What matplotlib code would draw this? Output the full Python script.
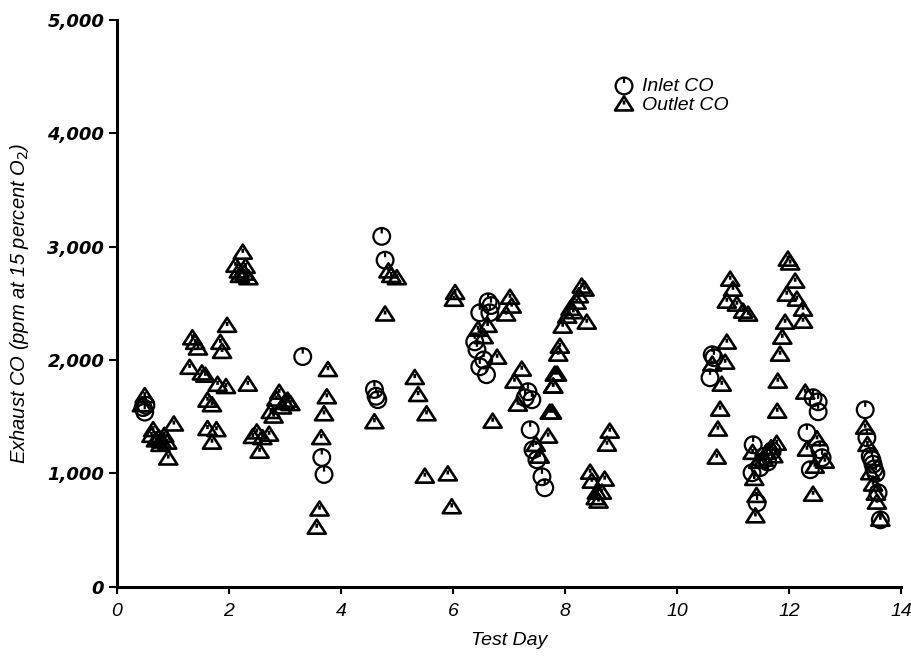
import matplotlib.pyplot as plt
import numpy as np
from matplotlib.path import Path

plt.rcParams['font.family'] = ['Liberation Sans', 'DejaVu Sans']

# Inlet CO readings (test day, ppm at 15 percent O2)
inlet_day = [0.47, 0.50, 0.52,
             3.32, 3.66, 3.70,
             4.60, 4.63, 4.66, 4.73, 4.79,
             6.48, 6.63, 6.66, 6.39, 6.43, 6.48, 6.60, 6.55, 6.68,
             7.34, 7.29, 7.41, 7.38, 7.43, 7.50, 7.59, 7.64,
             10.63, 10.59, 10.66,
             11.36, 11.34, 11.43, 11.55, 11.62, 11.70, 11.48,
             12.32, 12.38, 12.43, 12.52, 12.52, 12.55, 12.59,
             13.36, 13.39, 13.45, 13.48, 13.50, 13.52, 13.55, 13.59, 13.63]
inlet_co = [1580, 1540, 1600,
            2030, 1140, 990,
            1740, 1680, 1650, 3090, 2880,
            2416, 2513, 2416, 2160, 2090, 1940, 1870, 2000, 2480,
            1720, 1667, 1649, 1385, 1208, 1120, 970, 873,
            2046, 1843, 2020,
            1252, 1005, 740, 1150, 1100, 1200, 1050,
            1358, 1032, 1667, 1631, 1543, 1208, 1138,
            1561, 1314, 1150, 1120, 1080, 1040, 1000, 829, 590]

# Outlet CO readings
outlet_day = [0.50, 0.45, 0.62, 0.70, 0.75, 0.80, 0.85, 0.90, 1.02, 0.92, 0.65, 0.78,
              1.30, 1.35, 1.40, 1.45, 1.52, 1.58, 1.62, 1.70, 1.62, 1.70, 1.78,
              1.85, 1.88, 1.97, 1.80, 1.95,
              2.25, 2.12, 2.30, 2.20, 2.35, 2.28, 2.18,
              2.34, 2.50, 2.43, 2.72, 2.55, 2.60,
              2.90, 2.85, 3.00, 2.75, 2.80, 2.95, 3.05, 3.10,
              3.77, 3.75, 3.70, 3.65, 3.62, 3.57,
              4.90, 4.85, 4.79, 4.60, 5.00,
              5.32, 5.38, 5.53, 5.50, 5.91, 5.98, 6.04, 6.02,
              7.02, 7.05, 6.95, 6.45, 6.79, 6.71, 6.55, 6.62,
              7.23, 7.10, 7.16, 7.55, 7.48,
              7.86, 7.79, 7.77, 7.70, 7.91, 7.88, 7.82, 7.79, 7.73,
              8.30, 8.21, 8.04, 7.96, 8.39, 8.25, 8.35, 8.10, 8.15,
              8.80, 8.75, 8.45, 8.71, 8.48, 8.57, 8.66, 8.55, 8.60,
              10.95, 11.00, 10.89, 11.07, 11.18, 11.27, 10.89, 10.86, 10.80,
              10.77, 10.73, 10.71, 10.63,
              11.98, 12.11, 11.96, 12.14, 12.25, 12.25, 11.93, 11.88, 11.84,
              11.80, 11.79, 12.02,
              11.35, 11.45, 11.38, 11.42, 11.40, 11.60, 11.68, 11.72, 11.78, 11.55,
              12.29, 12.32, 12.46, 12.64, 12.43, 12.50,
              13.36, 13.40, 13.45, 13.50, 13.55, 13.57, 13.63]
outlet_co = [1680, 1600, 1330, 1290, 1310, 1280, 1330, 1270, 1430, 1130, 1380, 1250,
             1930, 2190, 2150, 2100, 1880, 1860, 1640, 1600, 1390, 1270, 1380,
             2150, 2070, 2300, 1780, 1760,
             2945, 2830, 2820, 2740, 2720, 2760, 2780,
             1781, 1360, 1320, 1340, 1190, 1310,
             1710, 1650, 1620, 1540, 1500, 1580, 1640, 1610,
             1910, 1670, 1520, 1310, 680, 520,
             2740, 2780, 2400, 1450, 2720,
             1840, 1690, 1520, 970, 990, 700, 2590, 2530,
             2548, 2470, 2400, 2266, 2019, 1455, 2200, 2300,
             1914, 1808, 1605, 1146, 1250,
             1870, 1764, 1534, 1323, 2116, 2046, 1870, 1764, 1534,
             2646, 2504, 2381, 2293, 2328, 2560, 2620, 2450, 2420,
             1367, 1252, 1005, 944, 926, 829, 829, 780, 750,
             2707, 2619, 2513, 2487, 2425, 2399, 2152, 1975, 1781,
             1561, 1385, 1138, 1958,
             2884, 2690, 2575, 2531, 2443, 2337, 2328, 2196, 2046,
             1808, 1543, 2850,
             1180, 1100, 950, 800, 620, 1180, 1220, 1150, 1260, 1120,
             1711, 1208, 1058, 1102, 811, 1300,
             1402, 1250, 1000, 900, 820, 741, 590]

# circle with a short tick at the top, triangle with a tick at its apex
circ = Path.unit_circle()
tick = Path([(0, 1), (0, 0.35)], [Path.MOVETO, Path.LINETO])
circle_marker = Path.make_compound_path(circ, tick)
tri = Path([(-1, -0.65), (1, -0.65), (0, 0.9), (-1, -0.65)],
           [Path.MOVETO, Path.LINETO, Path.LINETO, Path.CLOSEPOLY])
tri_tick = Path([(0, 0.45), (0, 0.0)], [Path.MOVETO, Path.LINETO])
tri_marker = Path.make_compound_path(tri, tri_tick)

fig = plt.figure(figsize=(9.12, 6.6), dpi=100)
ax = fig.add_axes([0.128, 0.111, 0.860, 0.859])

ax.scatter(inlet_day, inlet_co, marker=circle_marker, s=145, facecolors='none',
           edgecolors='black', linewidths=1.6, label='Inlet CO', zorder=3)
ax.scatter(outlet_day, outlet_co, marker=tri_marker, s=170, facecolors='none',
           edgecolors='black', linewidths=1.9, label='Outlet CO', zorder=3)

ax.set_xlim(0, 14)
ax.set_ylim(0, 5000)
ax.set_xticks(range(0, 15, 2))
ax.set_yticks(range(0, 5001, 1000))
ax.set_yticklabels(['0', '1,000', '2,000', '3,000', '4,000', '5,000'])

for s in ['top', 'right']:
    ax.spines[s].set_visible(False)
for s in ['left', 'bottom']:
    ax.spines[s].set_linewidth(2.2)

ax.tick_params(axis='y', direction='out', length=6, width=1.5, pad=3)
ax.tick_params(axis='x', direction='out', length=5, width=1.5, pad=7, labelsize=14)
for lbl in ax.get_yticklabels():
    lbl.set_family('DejaVu Sans')
    lbl.set_fontstyle('oblique')
    lbl.set_fontweight('bold')
    lbl.set_fontsize(13)
for lbl in ax.get_xticklabels():
    lbl.set_fontstyle('italic')

ax.set_xlabel('Test Day', fontsize=14, fontstyle='italic', labelpad=8)
ax.set_ylabel('Exhaust CO (ppm at 15 percent O$_2$)', fontsize=14.5,
              fontstyle='italic', labelpad=12)

leg = ax.legend(loc='upper left', bbox_to_anchor=(0.622, 0.912), frameon=False,
                fontsize=14, handletextpad=0.3, labelspacing=0.05,
                handlelength=1.2, borderaxespad=0)
for t in leg.get_texts():
    t.set_fontstyle('italic')

fig.savefig('out.png', dpi=100)
